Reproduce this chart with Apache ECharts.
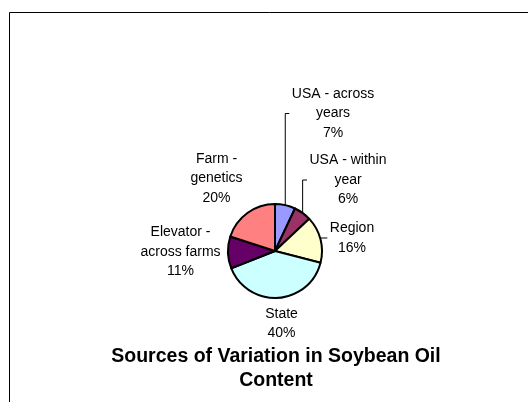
<!DOCTYPE html>
<html>
<head>
<meta charset="utf-8">
<script src="https://cdn.jsdelivr.net/npm/echarts@6/dist/echarts.min.js"></script>
<style>
  html, body { margin: 0; padding: 0; background: #fff; }
  #chart { width: 528px; height: 402px; }
</style>
</head>
<body>
<div id="chart"></div>
<script>
// Variance components (percent of total)
const categories = ['USA - across years', 'USA - within year', 'Region', 'State', 'Elevator - across farms', 'Farm - genetics'];
const shares = [7, 6, 16, 40, 11, 20];
const sliceColors = ['#9999FF', '#993366', '#FFFFCC', '#CCFFFF', '#660066', '#FF8080'];
const chartTitle = 'Sources of Variation in Soybean Oil\nContent';

// Label placement (centre of each text block) and which labels get a leader line
const labelCentres = [[333, 113.5], [348, 180], [352, 238], [281.5, 323.5], [180.5, 252], [216.5, 178.5]];
const hasLeader = [true, true, true, false, false, false];

const FONT = '"Liberation Sans", Arial, sans-serif';
const LABEL_SIZE = 14;
const WRAP_WIDTH = 90;

// word-wrap a category name to the label box width
const measureCtx = document.createElement('canvas').getContext('2d');
measureCtx.font = LABEL_SIZE + 'px ' + FONT;
function wrap(text) {
  const words = text.split(' ');
  const lines = [];
  let cur = '';
  words.forEach(w => {
    const trial = cur ? cur + ' ' + w : w;
    if (cur && measureCtx.measureText(trial).width > WRAP_WIDTH) {
      lines.push(cur);
      cur = w;
    } else {
      cur = trial;
    }
  });
  if (cur) lines.push(cur);
  return lines.join('\n');
}

const pieData = categories.map((name, i) => ({
  name: name,
  value: shares[i],
  itemStyle: { color: sliceColors[i] },
  labelLine: { show: hasLeader[i] }
}));

const chart = echarts.init(document.getElementById('chart'), null, { renderer: 'canvas' });

chart.setOption({
  backgroundColor: '#ffffff',
  animation: false,
  title: {
    text: chartTitle,
    left: 276,
    top: 345,
    padding: 0,
    textAlign: 'center',
    textStyle: {
      fontFamily: FONT,
      fontSize: 19.5,
      fontWeight: 'bold',
      color: '#000',
      lineHeight: 24
    }
  },
  graphic: [{
    type: 'rect',
    silent: true,
    shape: { x: 9.5, y: 12.5, width: 600, height: 500 },
    style: { fill: null, stroke: '#000', lineWidth: 1 }
  }],
  series: [{
    type: 'pie',
    center: [275, 251],
    radius: 47,
    startAngle: 90,
    clockwise: true,
    avoidLabelOverlap: false,
    data: pieData,
    itemStyle: { borderColor: '#000', borderWidth: 2 },
    label: {
      show: true,
      position: 'outside',
      fontFamily: FONT,
      fontSize: LABEL_SIZE,
      lineHeight: 19.5,
      color: '#000',
      align: 'center',
      formatter: p => wrap(p.name) + '\n' + p.value + '%'
    },
    labelLine: {
      show: true,
      length: 5,
      length2: 3,
      lineStyle: { color: '#000', width: 1 }
    },
    labelLayout: function (params) {
      const i = params.dataIndex;
      const c = labelCentres[i];
      const out = { x: c[0], y: c[1], align: 'center', verticalAlign: 'middle' };
      if (hasLeader[i] && params.labelLinePoints) {
        const p0 = params.labelLinePoints[0];
        const left = c[0] - params.labelRect.width / 2 - 2.5;
        out.labelLinePoints = [p0, [p0[0], c[1]], [left, c[1]]];
      }
      return out;
    }
  }]
});
</script>
</body>
</html>
